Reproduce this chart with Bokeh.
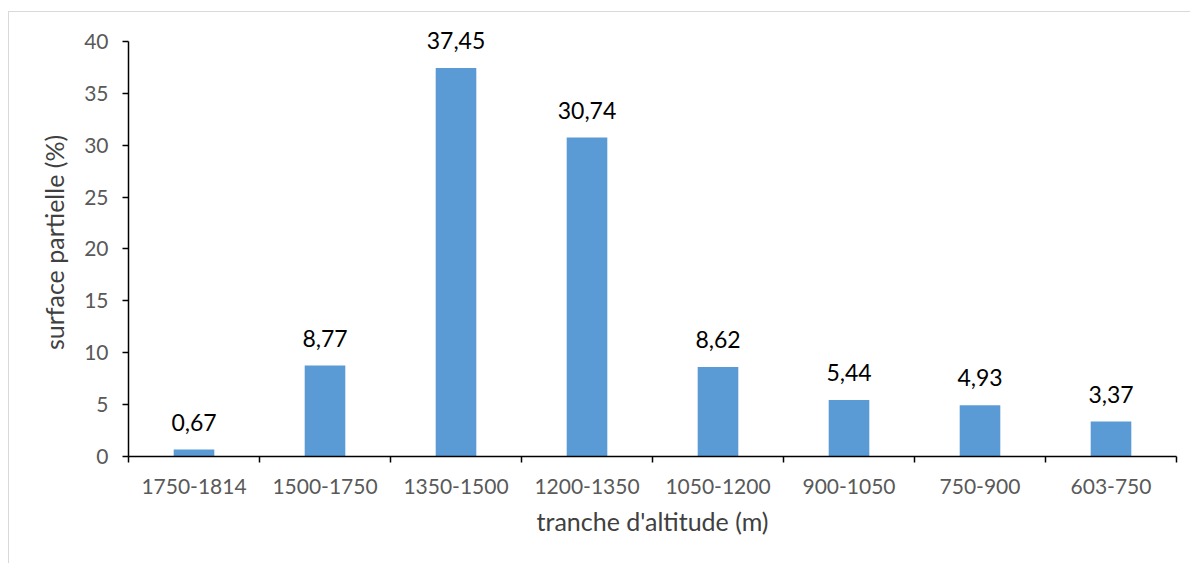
from bokeh.plotting import figure
from bokeh.models import ColumnDataSource, FixedTicker, Range1d, LabelSet
from bokeh.core.properties import value
from bokeh.embed import file_html
from bokeh.resources import INLINE

categories = ["1750-1814", "1500-1750", "1350-1500", "1200-1350",
              "1050-1200", "900-1050", "750-900", "603-750"]
values = [0.67, 8.77, 37.45, 30.74, 8.62, 5.44, 4.93, 3.37]
labels = ["0,67", "8,77", "37,45", "30,74", "8,62", "5,44", "4,93", "3,37"]
y_ticks = [0, 5, 10, 15, 20, 25, 30, 35, 40]

FONT = "Lato"
GREY = "#595959"
TITLE = "#404040"

n = len(categories)
centers = [i + 0.5 for i in range(n)]
src = ColumnDataSource(dict(x=centers, top=values, lab=labels))

p = figure(width=1182, height=552, output_backend="svg", toolbar_location=None,
           x_range=Range1d(0, n), y_range=Range1d(0, 41.25),
           min_border_left=119, min_border_right=15, min_border_top=16, min_border_bottom=108)
p.styles = {"border-left": "1px solid #d9d9d9", "border-top": "1px solid #d9d9d9",
            "margin-left": "8px", "margin-top": "11px"}

p.vbar(x="x", top="top", width=0.31, source=src, color="#5B9BD5", line_color=None)
p.add_layout(LabelSet(x="x", y="top", text="lab", source=src, text_align="center",
                      text_baseline="alphabetic", y_offset=19, text_font_size="23px",
                      text_color="#000000", text_font=value(FONT)))

p.grid.visible = False
p.outline_line_color = None
p.background_fill_color = "white"
p.border_fill_color = "white"

xa = p.xaxis[0]
xa.ticker = FixedTicker(ticks=centers, minor_ticks=list(range(n + 1)))
xa.major_label_overrides = {c: lab for c, lab in zip(centers, categories)}
xa.major_tick_out = 0
xa.major_tick_in = 0
xa.minor_tick_out = 6
xa.minor_tick_in = 0
xa.minor_tick_line_color = "#000000"
xa.minor_tick_line_width = 1.5
xa.axis_line_color = "#000000"
xa.axis_line_width = 1.5
xa.major_label_text_font = FONT
xa.major_label_text_font_size = "21px"
xa.major_label_text_color = GREY
xa.major_label_standoff = 16
xa.axis_label = "tranche d'altitude (m)"
xa.axis_label_text_font = FONT
xa.axis_label_text_font_size = "25px"
xa.axis_label_text_font_style = "normal"
xa.axis_label_text_color = TITLE
xa.axis_label_standoff = 9

ya = p.yaxis[0]
ya.ticker = FixedTicker(ticks=y_ticks)
ya.bounds = (0, 40)
ya.minor_tick_line_color = None
ya.major_tick_out = 6
ya.major_tick_in = 0
ya.major_tick_line_color = "#000000"
ya.major_tick_line_width = 1.5
ya.axis_line_color = "#000000"
ya.axis_line_width = 1.5
ya.major_label_text_font = FONT
ya.major_label_text_font_size = "21px"
ya.major_label_text_color = GREY
ya.major_label_standoff = 14
ya.axis_label = "surface partielle (%)"
ya.axis_label_text_font = FONT
ya.axis_label_text_font_size = "25px"
ya.axis_label_text_font_style = "normal"
ya.axis_label_text_color = TITLE
ya.axis_label_standoff = 12

open("out.html", "w").write(file_html(p, INLINE))
